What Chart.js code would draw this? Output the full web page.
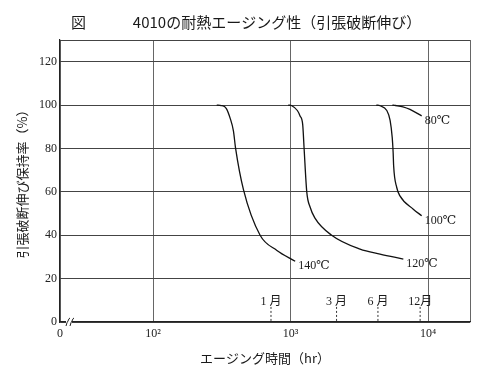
<!DOCTYPE html>
<html>
<head>
<meta charset="utf-8">
<script src="https://cdn.jsdelivr.net/npm/chart.js@4/dist/chart.umd.min.js"></script>
<style>
    html, body { margin: 0; padding: 0; background: #fff; }
</style>
</head>
<body>
<canvas id="chart" width="500" height="373"></canvas>
<script>
// 図のテキスト
const figLabel = '図';
const titleText = '4010の耐熱エージング性（引張破断伸び）';
const xTitle = 'エージング時間（hr）';
const yTitle = '引張破断伸び保持率（%）';

// 目盛り
const xTickValues = [21, 100, 1000, 10000, 20200];
const xTickLabels = ['0', '10²', '10³', '10⁴', ''];
const yTickValues = [0, 20, 40, 60, 80, 100, 120, 130];
const yTickLabels = ['0', '20', '40', '60', '80', '100', '120', ''];

// 各温度の曲線 (時間 hr, 保持率 %)
const curveNames = ['140℃', '120℃', '100℃', '80℃'];
const hours140 = [290, 313, 340, 363, 384, 398, 454, 600, 795, 1080];
const ret140   = [100, 99.8, 98.5, 94, 88, 80, 61, 40, 33, 28];
const hours120 = [960, 1021, 1120, 1172, 1225, 1254, 1311, 1386, 1500, 1990, 3201, 4474, 6610];
const ret120   = [100, 99.7, 97.5, 95, 91, 80, 60, 53, 48, 40, 33.6, 31.3, 29];
const hours100 = [4200, 4474, 5012, 5297, 5490, 5575, 5620, 5920, 6264, 7810, 8990];
const ret100   = [100, 99.7, 97.5, 93, 85, 78, 72, 62, 58, 52, 49];
const hours80  = [5500, 5800, 6570, 7390, 8990];
const ret80    = [100, 99.8, 99.2, 98, 95];

// 月の目安
const monthNames = ['1 月', '3 月', '6 月', '12月'];
const monthHours = [720, 2160, 4320, 8760];
const monthLineBottom = 0.5;
const monthLineTop = 7;
const monthLabelY = 9.5;

function toPoints(xs, ys) {
    return xs.map((v, i) => ({ x: v, y: ys[i] }));
}

const curveData = [
    toPoints(hours140, ret140),
    toPoints(hours120, ret120),
    toPoints(hours100, ret100),
    toPoints(hours80, ret80)
];

const datasets = [];
curveData.forEach((pts, i) => {
    datasets.push({
        label: curveNames[i],
        data: pts,
        borderColor: '#111',
        borderWidth: 1.3,
        pointRadius: 0,
        fill: false,
        cubicInterpolationMode: 'monotone'
    });
});
monthHours.forEach((h, i) => {
    datasets.push({
        label: monthNames[i],
        data: [{ x: h, y: monthLineBottom }, { x: h, y: monthLineTop }],
        borderColor: '#333',
        borderWidth: 1,
        borderDash: [2, 2],
        pointRadius: 0,
        fill: false
    });
});

const serif = '"Liberation Serif", "DejaVu Serif", "Noto Sans CJK JP", serif';
const gothic = '"Noto Sans CJK JP", sans-serif';

const textPlugin = {
    id: 'textPlugin',
    afterDraw(chart) {
        const { ctx, scales: { x, y }, chartArea } = chart;
        ctx.save();
        ctx.fillStyle = '#1a1a1a';
        ctx.textBaseline = 'middle';

        // タイトル
        ctx.font = '15px ' + gothic;
        ctx.textAlign = 'left';
        ctx.fillText(figLabel, 71, 22);
        ctx.textAlign = 'center';
        ctx.fillText(titleText, 277, 22);

        // 曲線のラベル
        ctx.font = '12px ' + serif;
        ctx.textAlign = 'left';
        curveData.forEach((pts, i) => {
            const last = pts[pts.length - 1];
            const px = x.getPixelForValue(last.x);
            const py = y.getPixelForValue(last.y);
            ctx.fillText(curveNames[i], px + 3, py + 5);
        });

        // 月のラベル
        ctx.textAlign = 'center';
        monthHours.forEach((h, i) => {
            ctx.fillText(monthNames[i], x.getPixelForValue(h), y.getPixelForValue(monthLabelY));
        });

        // 軸の省略記号
        const bx = chartArea.left + 8;
        const by = chartArea.bottom;
        ctx.fillStyle = '#fff';
        ctx.fillRect(bx - 2, by - 3, 6, 6);
        ctx.strokeStyle = '#222';
        ctx.lineWidth = 1;
        [bx - 2, bx + 2].forEach(sx => {
            ctx.beginPath();
            ctx.moveTo(sx, by + 4);
            ctx.quadraticCurveTo(sx + 1, by, sx + 2, by - 1);
            ctx.quadraticCurveTo(sx + 3, by - 4, sx + 4, by - 4);
            ctx.stroke();
        });
        ctx.restore();
    }
};

const ctx = document.getElementById('chart').getContext('2d');
new Chart(ctx, {
    type: 'line',
    data: { datasets: datasets },
    options: {
        responsive: false,
        animation: false,
        layout: { padding: { top: 40, right: 30, left: 0, bottom: 0 } },
        plugins: {
            legend: { display: false },
            tooltip: { enabled: false }
        },
        scales: {
            x: {
                type: 'logarithmic',
                min: xTickValues[0],
                max: xTickValues[xTickValues.length - 1],
                afterBuildTicks: axis => {
                    axis.ticks = xTickValues.map(v => ({ value: v }));
                },
                afterFit: axis => { axis.height = 51; },
                ticks: {
                    autoSkip: false,
                    maxRotation: 0,
                    padding: 5,
                    color: '#222',
                    font: { family: serif, size: 12 },
                    callback: (value, index) => xTickLabels[index]
                },
                grid: { color: '#666', lineWidth: 1, drawTicks: false },
                border: { color: '#222', width: 1.2 },
                title: {
                    display: true,
                    text: xTitle,
                    color: '#1a1a1a',
                    font: { family: gothic, size: 13 },
                    padding: { top: 0, bottom: 7 }
                }
            },
            y: {
                type: 'linear',
                min: 0,
                max: 130,
                afterBuildTicks: axis => {
                    axis.ticks = yTickValues.map(v => ({ value: v }));
                },
                afterFit: axis => { axis.width = 60; },
                ticks: {
                    padding: 3,
                    color: '#222',
                    font: { family: serif, size: 12 },
                    callback: (value, index) => yTickLabels[index]
                },
                grid: { color: '#444', lineWidth: 1, drawTicks: false },
                border: { color: '#222', width: 1.2 },
                title: {
                    display: true,
                    text: yTitle,
                    color: '#1a1a1a',
                    font: { family: gothic, size: 13 },
                    padding: { top: 14, bottom: 0 }
                }
            }
        }
    },
    plugins: [textPlugin]
});
</script>
</body>
</html>
